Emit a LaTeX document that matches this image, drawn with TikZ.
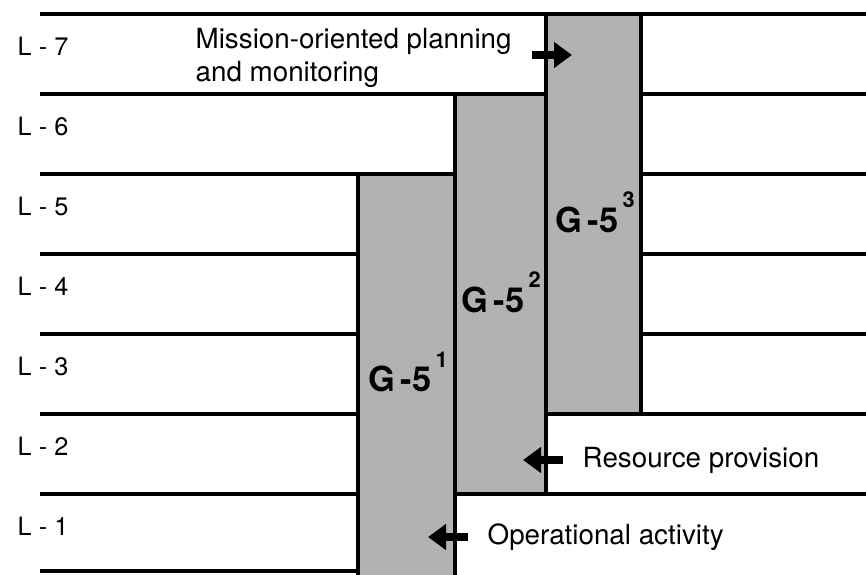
\documentclass[tikz,border=0pt]{standalone}
\usepackage{fontspec}
\setmainfont{TeX Gyre Heros}
\usetikzlibrary{arrows.meta}
\newcommand{\gfive}[1]{G\,-5\kern1.2pt\raisebox{0.72em}{\fontsize{6.2}{7}\selectfont #1}}

\begin{document}
\begin{tikzpicture}[font=\fontsize{7.9}{9.4}\selectfont,
  rowline/.style={line width=1.3pt},
  colbox/.style={fill=black!30, draw=black, line width=1.3pt},
  txt/.style={inner sep=0pt, anchor=west},
  gtext/.style={inner sep=0pt, font=\fontsize{9.8}{10}\selectfont\bfseries},
  blockarrow/.style={line width=2.3pt, -{Triangle[length=0.18cm, width=0.25cm]}}]

  \clip (0,0) rectangle (8.66,5.74);

  % ---- level lines ----
  \foreach \y in {5.60,4.80,4.00,3.20,2.40,1.60,0.80}
    \draw[rowline] (0.40,\y) -- (8.66,\y);
  \draw[rowline] (0.40,0.03) -- (3.58,0.03);

  % ---- level labels ----
  \foreach \k in {1,...,7}
    \node[txt, font=\fontsize{7.2}{8}\selectfont] (lvl\k) at (0.17,{0.41+0.8*(\k-1)+0.07}) {L - \k};

  % ---- G-5 columns ----
  \fill[black!30] (3.58,-0.1) rectangle (4.55,4.00);
  \draw[line width=1.3pt] (3.58,-0.1) |- (4.55,4.00) -- (4.55,-0.1);
  \draw[colbox] (4.55,0.80) rectangle (5.46,4.80);
  \draw[colbox] (5.46,1.60) rectangle (6.41,5.60);
  \node[gtext] (g1) at (4.08,2.02) {\gfive{1}};
  \node[gtext] (g2) at (5.01,2.82) {\gfive{2}};
  \node[gtext] (g3) at (5.95,3.62) {\gfive{3}};

  % ---- activity labels ----
  \node[txt, align=left] (mission) at (1.95,5.16) {Mission-oriented planning\\and monitoring};
  \node[txt] (resource) at (5.82,1.14) {Resource provision};
  \node[txt] (operation) at (4.87,0.37) {Operational activity};

  % ---- arrows into the columns ----
  \coordinate (mtail) at (5.32,5.19);
  \coordinate (mtip) at (5.72,5.19);
  \coordinate (rtail) at (5.63,1.14);
  \coordinate (rtip) at (5.23,1.14);
  \coordinate (otail) at (4.68,0.37);
  \coordinate (otip) at (4.28,0.37);
  \draw[blockarrow] (mtail) -- (mtip);
  \draw[blockarrow] (rtail) -- (rtip);
  \draw[blockarrow] (otail) -- (otip);

\end{tikzpicture}
\end{document}
